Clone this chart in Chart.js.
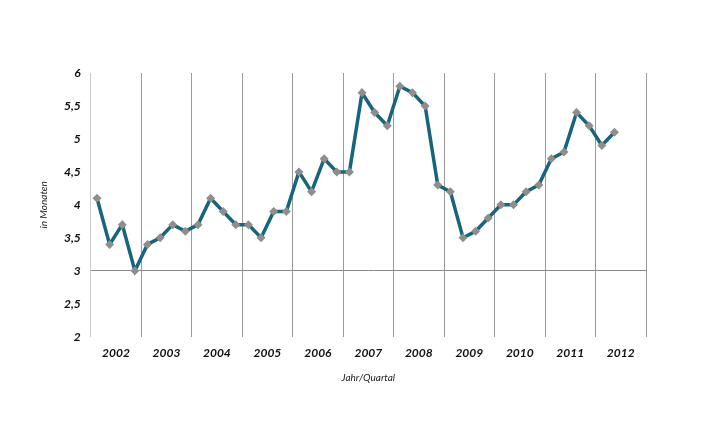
<!DOCTYPE html>
<html>
<head>
<meta charset="utf-8">
<script src="https://cdn.jsdelivr.net/npm/chart.js@4"></script>
<style>
  html, body { margin: 0; padding: 0; background: #fff; }
  #wrap { width: 712px; height: 435px; }
</style>
</head>
<body>
<div id="wrap"><canvas id="chart"></canvas></div>
<script>
// years on the x axis (4 quarters each)
const years = ["2002", "2003", "2004", "2005", "2006", "2007", "2008", "2009", "2010", "2011", "2012"];
// quarterly values, in months
const values = [
  4.1, 3.4, 3.7, 3.0,
  3.4, 3.5, 3.7, 3.6,
  3.7, 4.1, 3.9, 3.7,
  3.7, 3.5, 3.9, 3.9,
  4.5, 4.2, 4.7, 4.5,
  4.5, 5.7, 5.4, 5.2,
  5.8, 5.7, 5.5, 4.3,
  4.2, 3.5, 3.6, 3.8,
  4.0, 4.0, 4.2, 4.3,
  4.7, 4.8, 5.4, 5.2,
  4.9, 5.1
];
const yTicks = [2, 2.5, 3, 3.5, 4, 4.5, 5, 5.5, 6];

const tickFont = { family: "Lato", size: 12, weight: "bold", style: "italic" };
const titleFont = { family: "Lato", size: 10, style: "italic" };

// each quarter sits in the middle of its slot
const points = values.map((v, i) => ({ x: i + 0.5, y: v }));

new Chart(document.getElementById("chart"), {
  type: "line",
  data: {
    datasets: [{
      data: points,
      borderColor: "#17657c",
      borderWidth: 3.5,
      tension: 0,
      pointStyle: "rectRot",
      pointRadius: 4.5,
      pointBackgroundColor: "#8e8e8e",
      pointBorderColor: "#8e8e8e",
      pointBorderWidth: 0
    }]
  },
  options: {
    responsive: true,
    maintainAspectRatio: false,
    animation: false,
    layout: { padding: { left: 38, top: 73, right: 66, bottom: 51 } },
    plugins: { legend: { display: false }, tooltip: { enabled: false } },
    scales: {
      x: {
        type: "linear",
        min: 0,
        max: years.length * 4,
        afterBuildTicks: (scale) => {
          const t = [];
          for (let v = 0; v <= years.length * 4; v += 2) t.push({ value: v });
          scale.ticks = t;
        },
        afterFit: (scale) => { scale.height = 47.3; },
        border: { display: false },
        grid: {
          drawTicks: false,
          color: (ctx) => (ctx.tick && ctx.tick.value % 4 === 0)
            ? (ctx.tick.value === 0 ? "#c8c8c8" : "#9a9a9a") : "transparent",
          lineWidth: 1
        },
        ticks: {
          autoSkip: false,
          maxRotation: 0,
          padding: 9,
          color: "#111",
          font: tickFont,
          callback: (v) => v % 4 === 2 ? years[(v - 2) / 4] : ""
        },
        title: {
          display: true,
          text: "Jahr/Quartal",
          color: "#222",
          font: titleFont,
          padding: 0
        }
      },
      y: {
        min: 2,
        max: 6,
        afterBuildTicks: (scale) => { scale.ticks = yTicks.map(v => ({ value: v })); },
        afterFit: (scale) => { scale.width = 52.7; },
        border: { display: false },
        grid: {
          drawTicks: false,
          color: (ctx) => (ctx.tick && ctx.tick.value === 3) ? "#8a8a8a" : "transparent"
        },
        ticks: {
          padding: 10,
          color: "#111",
          font: tickFont,
          callback: (v) => String(v).replace(".", ",")
        },
        title: {
          display: true,
          text: "in Monaten",
          color: "#222",
          font: titleFont,
          padding: 0
        }
      }
    }
  }
});
</script>
</body>
</html>
